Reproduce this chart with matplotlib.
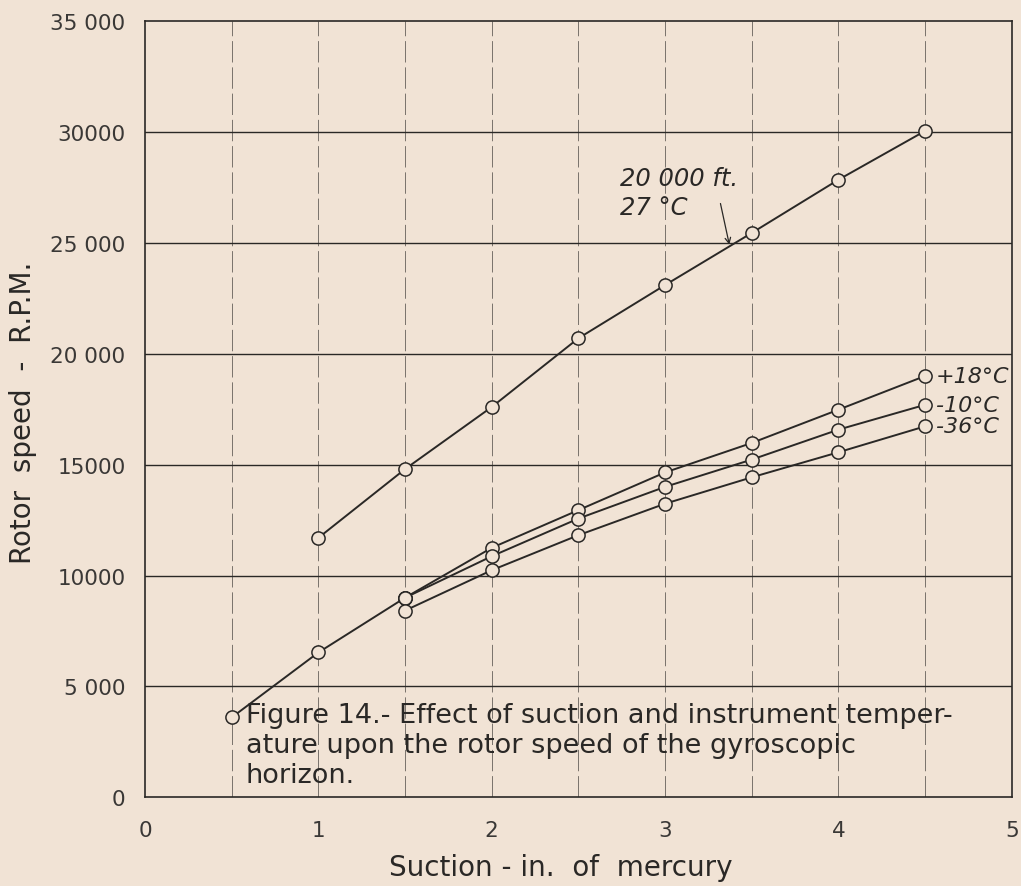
import numpy as np
import matplotlib
matplotlib.use("Agg")
import matplotlib.pyplot as plt

# data --------------------------------------------------
x_base = [0.5, 1.0, 1.5]
rpm_base = [3600, 6530, 9000]

x_alt = [1.0, 1.5, 2.0, 2.5, 3.0, 3.5, 4.0, 4.5]
rpm_20000ft = [11700, 14800, 17600, 20700, 23100, 25450, 27850, 30050]

x_temp = [1.5, 2.0, 2.5, 3.0, 3.5, 4.0, 4.5]
rpm_p18 = [9000, 11250, 12950, 14650, 15980, 17480, 19000]
rpm_m10 = [9000, 10870, 12570, 14000, 15230, 16580, 17700]
rpm_m36 = [8420, 10240, 11820, 13240, 14430, 15560, 16730]
temp_labels = ['+18°C', '-10°C', '-36°C']

yticks = [0, 5000, 10000, 15000, 20000, 25000, 30000, 35000]
ytick_labels = ['0', '5 000', '10000', '15000', '20 000', '25 000', '30000', '35 000']
xticks = [0, 1, 2, 3, 4, 5]

caption = ("Figure 14.- Effect of suction and instrument temper-\n"
           "ature upon the rotor speed of the gyroscopic\n"
           "horizon.")

paper = '#F1E3D5'
ink = '#2a2826'

plt.rcParams['font.family'] = ['DejaVu Sans']

fig = plt.figure(figsize=(10.21, 8.87), dpi=100, facecolor=paper)
ax = fig.add_axes([0.142, 0.100, 0.849, 0.875])
ax.set_facecolor(paper)

# grid
for yv in yticks[1:-1]:
    ax.axhline(yv, color=ink, lw=1.0, zorder=1)
for xv in np.arange(0.5, 5.0, 0.5):
    ax.axvline(xv, color=ink, lw=0.7, ls=(0, (22, 5)), alpha=0.6, zorder=1)

mk = dict(marker='o', ms=9.5, mfc=paper, mec=ink, mew=1.1, color=ink, lw=1.4, zorder=3)
ax.plot(x_base, rpm_base, **mk)
ax.plot(x_alt, rpm_20000ft, **mk)
for vals, lab in zip([rpm_p18, rpm_m10, rpm_m36], temp_labels):
    ax.plot(x_temp, vals, **mk)
    ax.text(x_temp[-1] + 0.06, vals[-1], lab, fontsize=16, style='italic',
            color=ink, ha='left', va='center', zorder=4)

ax.text(2.74, 27930, '20 000 ft.', fontsize=17.5, style='italic', color=ink,
        ha='left', va='center')
ax.text(2.74, 26620, '27 °C', fontsize=17.5, style='italic', color=ink,
        ha='left', va='center')
ax.annotate('', xy=(3.374, 24800), xytext=(3.316, 26900),
            arrowprops=dict(arrowstyle='->', color=ink, lw=0.9))

ax.text(0.58, 4300, caption, fontsize=19.5, color=ink, ha='left', va='top',
        linespacing=1.2, zorder=4)

ax.set_xlim(0, 5)
ax.set_ylim(0, 35000)
ax.set_xticks(xticks)
ax.set_yticks(yticks)
ax.set_yticklabels(ytick_labels)
ax.tick_params(length=0, labelsize=15.5, labelcolor='#3a3836')
ax.tick_params(axis='y', pad=14)
ax.tick_params(axis='x', pad=16)
for sp in ax.spines.values():
    sp.set_color(ink)
    sp.set_linewidth(1.2)

ax.set_xlabel('Suction - in.  of  mercury', fontsize=20, color=ink)
ax.xaxis.set_label_coords(0.48, -0.072)
ax.set_ylabel('Rotor  speed  -  R.P.M.', fontsize=20, color=ink)
ax.yaxis.set_label_coords(-0.124, 0.497)

fig.savefig('out.png', dpi=100, facecolor=paper)
